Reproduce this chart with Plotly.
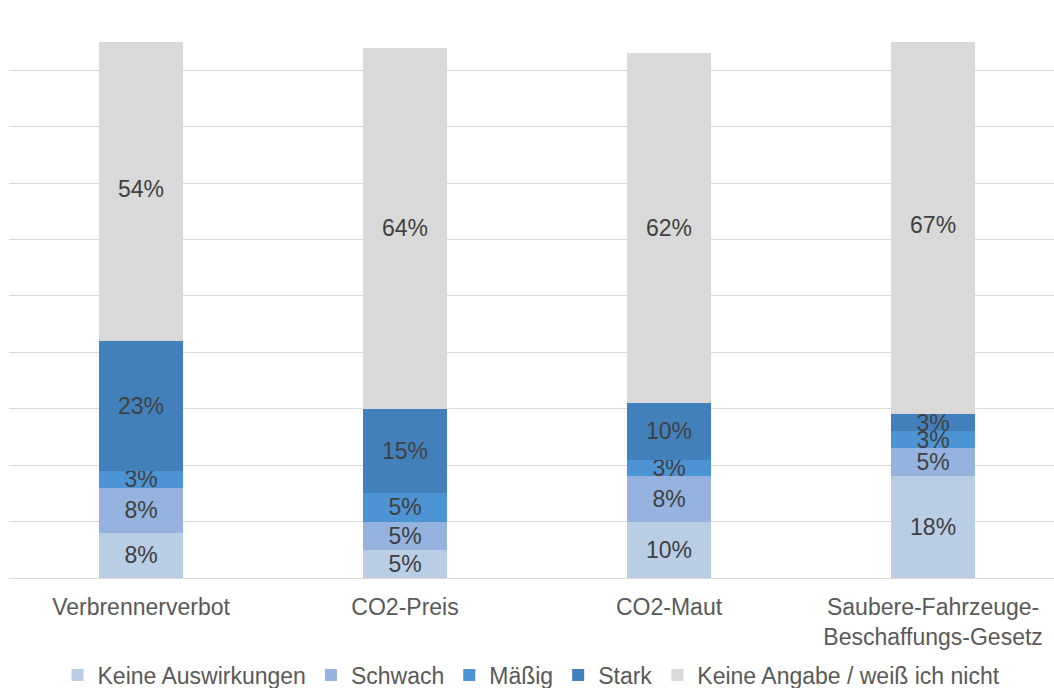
import plotly.graph_objects as go

categories = ["Verbrennerverbot", "CO2-Preis", "CO2-Maut",
              "Saubere-Fahrzeuge-<br>Beschaffungs-Gesetz"]

keine_auswirkungen = [0.08, 0.05, 0.10, 0.18]
schwach = [0.08, 0.05, 0.08, 0.05]
maessig = [0.03, 0.05, 0.03, 0.03]
stark = [0.23, 0.15, 0.10, 0.03]
keine_angabe = [0.54, 0.64, 0.62, 0.67]

series = [
    ("Keine Auswirkungen", keine_auswirkungen, "#B9CDE5"),
    ("Schwach", schwach, "#95B3DE"),
    ("Mäßig", maessig, "#4D94D4"),
    ("Stark", stark, "#4280BB"),
    ("Keine Angabe / weiß ich nicht", keine_angabe, "#D9D9D9"),
]

FONT = "Arial, Liberation Sans, sans-serif"

fig = go.Figure()
for name, values, color in series:
    fig.add_trace(go.Bar(
        name=name,
        x=categories,
        y=values,
        marker=dict(color=color, line=dict(width=0)),
        width=0.315,
        text=[f"{round(v * 100)}%" for v in values],
        textposition="inside",
        insidetextanchor="middle",
        textangle=0,
        textfont=dict(family=FONT, size=23, color="#404040"),
        hoverinfo="skip",
    ))

fig.update_layout(
    barmode="stack",
    width=1054,
    height=688,
    margin=dict(l=9, r=0, t=42, b=110, autoexpand=False),
    paper_bgcolor="white",
    plot_bgcolor="white",
    uniformtext=dict(minsize=23, mode="show"),
    font=dict(family=FONT, size=23, color="#595959"),
    xaxis=dict(
        range=[-0.5, 3.458],
        showgrid=False,
        showline=False,
        ticks="",
        automargin=False,
        ticklabelstandoff=13,
        tickfont=dict(family=FONT, size=23, color="#595959"),
    ),
    yaxis=dict(
        range=[0, 0.95],
        dtick=0.1,
        tick0=0,
        showticklabels=False,
        showgrid=True,
        gridcolor="#D9D9D9",
        gridwidth=1,
        zeroline=True,
        zerolinecolor="#D9D9D9",
        zerolinewidth=1,
        showline=False,
        ticks="",
        automargin=False,
    ),
    legend=dict(
        orientation="h",
        x=0.5,
        xanchor="center",
        y=-0.181,
        yanchor="middle",
        itemwidth=30,
        font=dict(family=FONT, size=23, color="#595959"),
        traceorder="normal",
    ),
    showlegend=True,
)

fig.write_html("out.html")
